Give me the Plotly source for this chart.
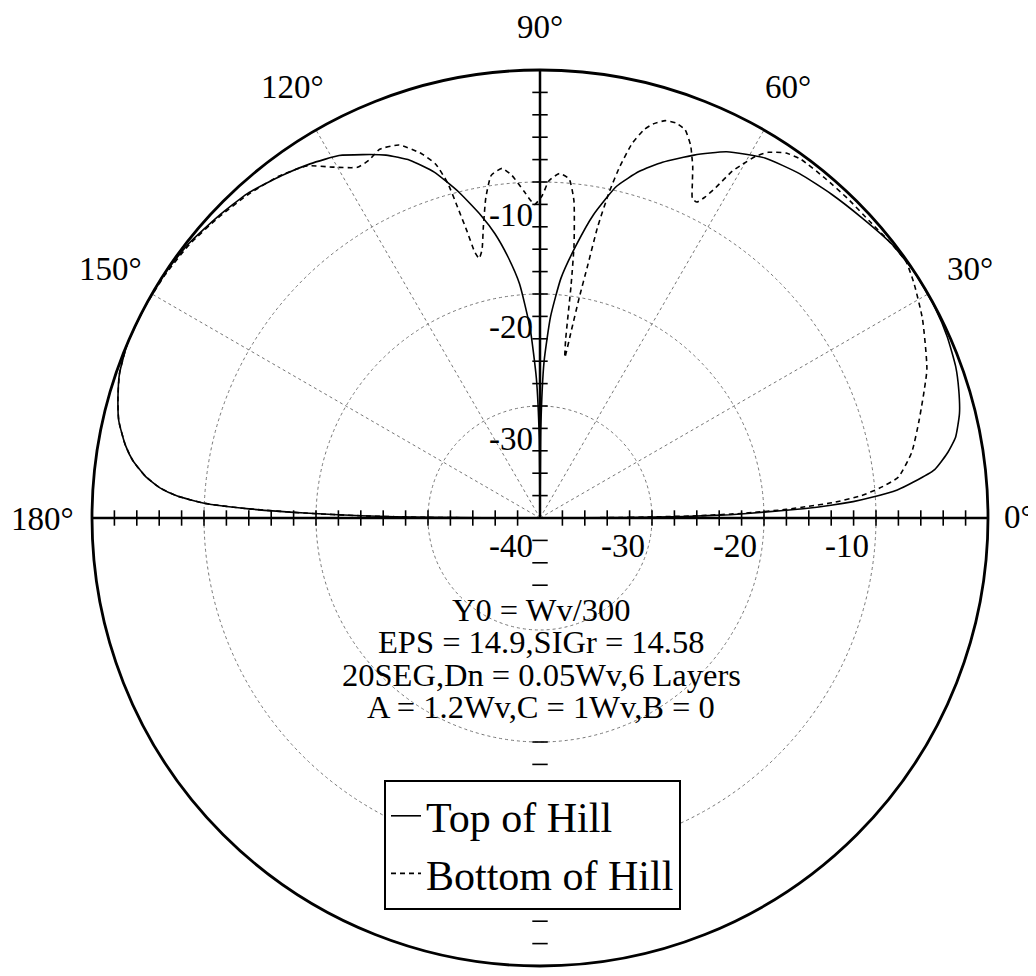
import math
import plotly.graph_objects as go

# elevation pattern, dB relative to max (centre of the plot = -40 dB)
theta_top = [0, 0.3, 0.6, 1.0, 1.5, 2.0, 2.5, 3.0, 3.5, 4.5, 5.5, 7, 9, 11, 14, 17, 20, 24, 28, 33,
             38, 43, 48, 53, 58, 63, 67, 71, 74, 77, 80, 82.5, 85, 87, 88.5, 89.5, 90,
             90.5, 91.5, 93, 95, 97, 99, 101, 104, 107, 110, 113, 116, 119, 123, 127, 132, 137,
             142, 147, 152, 157, 161, 164, 167, 170, 172, 174, 175.5, 176.5, 177.5, 178.2, 178.8,
             179.3, 179.7, 180]
r_top = [-40, -32, -27, -23, -20, -16.5, -14, -12, -10.5, -8, -6.5, -4.5, -3.2, -2.2, -1.4, -0.9, -0.5, -0.2, -0.05, 0,
         -0.2, -0.7, -1.1, -1.5, -2.1, -3.3, -4.8, -6.4, -7.8, -9.6, -12.5, -15.5, -18.5, -22, -26, -32, -40,
         -33, -27.5, -23, -19, -16.5, -14.3, -12.5, -10, -7.7, -6.0, -4.8, -3.9, -3.0, -2.3, -1.7, -1.0, -0.6,
         -0.2, 0, 0, 0, -0.3, -0.8, -1.4, -2.4, -3.3, -4.6, -6.0, -7.5, -10, -14, -19,
         -24, -30, -40]

theta_bottom = [0, 0.4, 0.8, 1.3, 2.0, 2.5, 3.0, 4.0, 5.0, 6.5, 10, 14.6, 21, 27.5, 32, 35, 38, 42, 46, 50,
                54, 56, 58, 59.2, 60.2, 61, 62, 62.8, 63.6, 64.5, 65.5, 66.5, 67.2, 68, 69.5, 71, 72.5,
                74, 75, 76.2, 77.2, 78, 78.8, 79.3, 79.9, 80.5, 81.2, 81.8, 82.4, 82.9, 83.9, 85.1, 86.8,
                88.5, 89.6, 91, 92.8, 94.7, 96.2, 98.1, 99.6, 101, 102.2, 103.2, 103.8, 104.3, 104.8,
                105.4, 106.4, 108, 110.7, 113.5, 115.6, 117.5, 120.6, 123.5, 127.3, 132, 137, 142, 147,
                152, 157, 161, 164, 167, 170, 172, 174, 175.5, 176.5, 177.5, 178.2, 178.8, 179.3, 179.7, 180]
r_bottom = [-40, -32, -26, -22, -18, -16, -13.8, -11.2, -9.6, -7.8, -6.3, -5.0, -3.0, -1.5, -0.6, -0.1, -0.2, -0.4, -0.4, -0.4,
            -0.4, -0.7, -1.5, -2.4, -3.6, -4.6, -6.6, -7.8, -8.5, -8.4, -7.2, -5.8, -5.0, -4.1, -3.0, -2.7, -2.8,
            -3.4, -4.1, -5.6, -7.8, -10.2, -13.5, -17, -20, -23, -25.5, -24, -19, -15.4, -11.5, -9.6, -9.2,
            -9.9, -11.2, -12, -10.8, -9.3, -8.6, -9.1, -11, -13.5, -15.5, -16.2, -15.5, -13.5, -11.5,
            -9.0, -7.1, -5.8, -4.4, -4.1, -4.6, -4.7, -3.6, -2.3, -1.6, -1.1, -0.7, -0.3, -0.1,
            0, 0, -0.3, -0.8, -1.4, -2.4, -3.3, -4.6, -6.0, -7.5, -10, -14, -19, -24, -30, -40]

ring_vals = [-30, -20, -10]
hor_labels = [-40, -30, -20, -10]
ver_labels = [-10, -20, -30]
axis_ticks = list(range(-38, 0, 2))
lower_ticks = [-38, -36, -34, -20, -18, -16, -14, -12, -10, -8, -6, -4, -2]
angle_ticks = [0, 30, 60, 90, 120, 150, 180]
notes = ["Y0 = Wv/300", "EPS = 14.9,SIGr = 14.58", "20SEG,Dn = 0.05Wv,6 Layers", "A = 1.2Wv,C = 1Wv,B = 0"]

# the page body has an 8px margin, so positions below are page pixels shifted by OFF
OFF = 8
W, H = 1028, 960
CX, CY, R = 540, 518, 448
FONT = "Liberation Serif, Times New Roman, serif"
DY = -1


def px(x, y):
    return (x - OFF) / W, 1 - (y - OFF + DY) / H


fig = go.Figure()
fig.add_trace(go.Scatterpolar(r=r_top, theta=theta_top, mode="lines", name="Top of Hill",
                              line=dict(color="black", width=1.6, shape="spline", smoothing=0.5)))
fig.add_trace(go.Scatterpolar(r=r_bottom, theta=theta_bottom, mode="lines", name="Bottom of Hill",
                              line=dict(color="black", width=1.6, dash="5px,4px", shape="spline", smoothing=0.5)))

# the two drawn axes through the centre
fig.add_trace(go.Scatterpolar(r=[0, -40, 0], theta=[180, 0, 0], mode="lines", showlegend=False,
                              line=dict(color="black", width=2.5)))
fig.add_trace(go.Scatterpolar(r=[-40, 0], theta=[90, 90], mode="lines", showlegend=False,
                              line=dict(color="black", width=2.5)))
tick_ns = dict(symbol="line-ns", size=11, color="black", line=dict(width=1.6, color="black"))
tick_ew = dict(symbol="line-ew", size=11, color="black", line=dict(width=1.6, color="black"))
fig.add_trace(go.Scatterpolar(r=axis_ticks + axis_ticks, theta=[0] * len(axis_ticks) + [180] * len(axis_ticks),
                              mode="markers", marker=tick_ns, showlegend=False))
fig.add_trace(go.Scatterpolar(r=axis_ticks + lower_ticks, theta=[90] * len(axis_ticks) + [270] * len(lower_ticks),
                              mode="markers", marker=tick_ew, showlegend=False))

fig.update_layout(
    width=W, height=H, margin=dict(l=0, r=0, t=0, b=0),
    paper_bgcolor="white", font=dict(family=FONT, color="black"),
    polar=dict(
        domain=dict(x=[(CX - R - OFF) / W, (CX + R - OFF) / W],
                    y=[1 - (CY + R - OFF) / H, 1 - (CY - R - OFF) / H]),
        bgcolor="white",
        radialaxis=dict(range=[-40, 0], tickvals=ring_vals, showticklabels=False, showline=False,
                        ticks="", gridcolor="#777", griddash="dot", gridwidth=1, angle=0),
        angularaxis=dict(rotation=0, direction="counterclockwise", tickmode="array", tickvals=angle_ticks,
                         showticklabels=False, showline=True, linecolor="black",
                         linewidth=2.8, gridcolor="#777", griddash="dot", gridwidth=1, ticks=""),
    ),
    legend=dict(x=(384 - OFF) / W, y=1 - (780 - OFF) / H, xanchor="left", yanchor="top", bgcolor="white",
                bordercolor="black", borderwidth=2, font=dict(size=42, family=FONT, color="black"),
                itemwidth=30),
    showlegend=True,
)

lab_font = dict(size=33, family=FONT, color="black")
ann = []
# angle labels sit outside the rim
for a in angle_ticks:
    if a == 0:
        x, y = px(1002, CY)
        xa = "left"
    elif a == 180:
        x, y = px(76, CY + 2)
        xa = "right"
    else:
        d = R + (42 if a == 90 else 48)
        x, y = px(CX + d * math.cos(math.radians(a)), CY - d * math.sin(math.radians(a)))
        xa = "center"
    ann.append(dict(x=x, y=y, text=f"{a}°", xanchor=xa, yanchor="middle", showarrow=False, font=lab_font))
# dB labels along the two drawn axes
for v in hor_labels:
    x, y = px(CX + (v + 40) * R / 40 - 5, CY + 29)
    ann.append(dict(x=x, y=y, text=str(v), xanchor="right", yanchor="middle", showarrow=False, font=lab_font))
for v in ver_labels:
    x, y = px(CX - 5, CY - (v + 40) * R / 40 + 34)
    ann.append(dict(x=x, y=y, text=str(v), xanchor="right", yanchor="middle", showarrow=False, font=lab_font))
for i, t in enumerate(notes):
    x, y = px(CX + 1, 611 + 32.3 * i)
    ann.append(dict(x=x, y=y, text=t, xanchor="center", yanchor="middle", showarrow=False,
                    font=dict(size=32.5, family=FONT, color="black")))
fig.update_layout(annotations=ann)

fig.write_html("out.html")
